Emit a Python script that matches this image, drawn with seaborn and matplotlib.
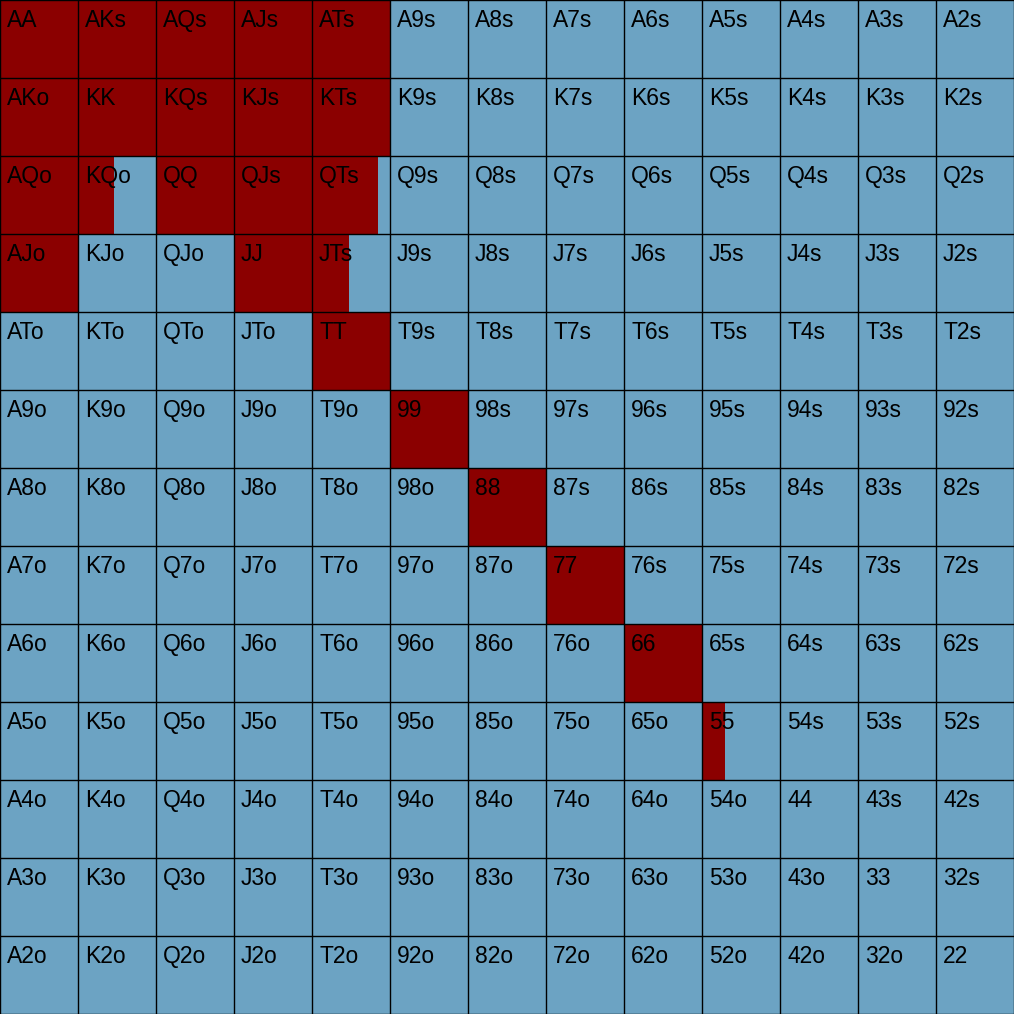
import numpy as np
import pandas as pd
import matplotlib
matplotlib.use("Agg")
import matplotlib.pyplot as plt
import seaborn as sns
from matplotlib.colors import ListedColormap

ranks = ["A", "K", "Q", "J", "T", "9", "8", "7", "6", "5", "4", "3", "2"]
red_hands = ["AA", "AKs", "AQs", "AJs", "ATs",
             "AKo", "KK", "KQs", "KJs", "KTs",
             "AQo", "KQo", "QQ", "QJs", "QTs",
             "AJo", "JJ", "JTs",
             "TT", "99", "88", "77", "66", "55"]
red_freq = [1.0, 1.0, 1.0, 1.0, 1.0,
            1.0, 1.0, 1.0, 1.0, 1.0,
            1.0, 0.46, 1.0, 1.0, 0.84,
            1.0, 1.0, 0.47,
            1.0, 1.0, 1.0, 1.0, 1.0, 0.29]

BLUE = "#6ca3c3"
RED = "#8b0000"

n = len(ranks)
labels = []
for i in range(n):
    row = []
    for j in range(n):
        if i == j:
            row.append(ranks[i] + ranks[j])
        elif j > i:
            row.append(ranks[i] + ranks[j] + "s")
        else:
            row.append(ranks[j] + ranks[i] + "o")
    labels.append(row)

freq_map = dict(zip(red_hands, red_freq))
freq = np.array([[freq_map.get(labels[i][j], 0.0) for j in range(n)] for i in range(n)])

fig = plt.figure(figsize=(10.24, 10.24), dpi=100)
ax = fig.add_axes([0, 10 / 1024, 1014 / 1024, 1014 / 1024])
sns.heatmap(pd.DataFrame(np.zeros((n, n))), cmap=ListedColormap([BLUE]), cbar=False,
            ax=ax, linewidths=0, xticklabels=False, yticklabels=False)

for i in range(n):
    for j in range(n):
        if freq[i, j] > 0:
            ax.barh(i + 0.5, freq[i, j], height=1.0, left=j, color=RED, linewidth=0, zorder=2)
        ax.text(j + 0.09, i + 0.115, labels[i][j], ha="left", va="top",
                fontsize=16.5, family="Liberation Sans", color="black", zorder=4)

for k in range(n + 1):
    ax.axhline(k, color="black", linewidth=1.0, zorder=3)
    ax.axvline(k, color="black", linewidth=1.0, zorder=3)

ax.set_xlim(0, n)
ax.set_ylim(n, 0)
for s in ax.spines.values():
    s.set_visible(False)
ax.set_xticks([])
ax.set_yticks([])

fig.savefig("out.png", dpi=100, facecolor="white")
